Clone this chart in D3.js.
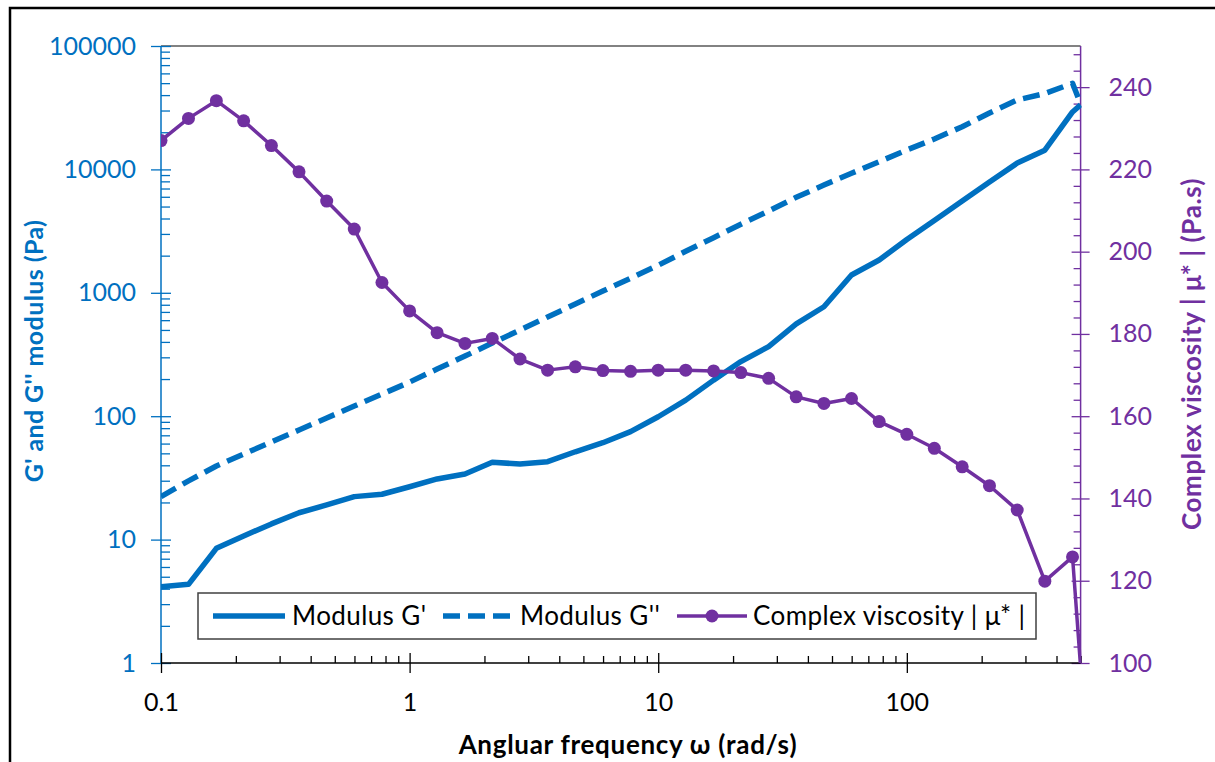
<!DOCTYPE html>
<html>
<head>
<meta charset="utf-8">
<script src="https://cdn.jsdelivr.net/npm/d3@7"></script>
<style>
  html, body { margin: 0; padding: 0; background: #fff; }
  svg { display: block; }
  text { font-family: Lato, "Open Sans", sans-serif; }
</style>
</head>
<body>
<svg id="chart" width="1215" height="762"></svg>
<script>
// Angular frequency sweep (rad/s)
const frequency = [0.1, 0.129, 0.167, 0.215, 0.278, 0.359, 0.464, 0.599, 0.774,
  1, 1.29, 1.67, 2.15, 2.78, 3.59, 4.64, 5.99, 7.74,
  10, 12.9, 16.7, 21.5, 27.8, 35.9, 46.4, 59.9, 77.4,
  100, 129, 167, 215, 278, 359, 464, 500];

// Storage modulus G' (Pa)
const storageModulus = [4.15, 4.34, 8.5, 10.7, 13.4, 16.5, 19.1, 22.3, 23.3,
  26.8, 31.0, 34.0, 42.3, 41.0, 42.8, 51.5, 61, 75,
  99, 135, 196, 277, 366, 560, 771, 1394, 1845,
  2700, 3850, 5550, 7900, 11250, 14300, 29200, 33300];

// Loss modulus G'' (Pa)
const lossModulus = [22.3, 29.9, 39.5, 49.4, 61.8, 77.3, 96.7, 121, 151,
  189, 241, 307, 392, 499, 637, 812, 1034, 1311,
  1671, 2170, 2796, 3591, 4602, 5941, 7474, 9299, 11545,
  14365, 17637, 22181, 28650, 36505, 41220, 49850, 33900];

// Complex viscosity |mu*| (Pa.s)
const complexViscosity = [227.0, 232.4, 236.7, 231.8, 225.8, 219.4, 212.3, 205.5, 192.5,
  185.6, 180.3, 177.7, 178.9, 173.9, 171.2, 172.0, 171.1, 170.9,
  171.2, 171.2, 171.0, 170.6, 169.2, 164.7, 163.1, 164.3, 158.7,
  155.6, 152.2, 147.7, 143.1, 137.2, 119.9, 125.8, 99];

const modulusTicks = [1, 10, 100, 1000, 10000, 100000];
const viscosityTicks = [100, 120, 140, 160, 180, 200, 220, 240];
const frequencyTicks = [0.1, 1, 10, 100];

const seriesNames = ["Modulus G'", "Modulus G''", "Complex viscosity | \u03bc* |"];
const axisTitles = {
  x: "Angluar frequency \u03c9 (rad/s)",
  left: "G' and G'' modulus (Pa)",
  right: "Complex viscosity | \u03bc* | (Pa.s)"
};

const BLUE = "#0070C0";
const PURPLE = "#7030A0";

const svg = d3.select("#chart");
const plot = { left: 161, right: 1080.6, top: 46, bottom: 663 };

const x = d3.scaleLog().domain([0.1, 500]).range([plot.left, plot.right]);
const yL = d3.scaleLog().domain([1, 100000]).range([plot.bottom, plot.top]);
const yR = d3.scaleLinear().domain([100, 250]).range([plot.bottom, plot.top]);

// outer frame (left and top edges visible)
svg.append("path")
  .attr("d", "M10,770 L10,8 L1220,8")
  .attr("fill", "none").attr("stroke", "#000").attr("stroke-width", 2.5);

// plot area top edge
svg.append("line")
  .attr("x1", plot.left).attr("x2", plot.right)
  .attr("y1", plot.top).attr("y2", plot.top)
  .attr("stroke", "#595959").attr("stroke-width", 1.5);

// log minor ticks 2..9 within each decade
function logMinors(lo, hi) {
  const out = [];
  for (let d = lo; d < hi; d *= 10) for (let k = 2; k <= 9; k++) out.push(d * k);
  return out;
}
const xMinors = logMinors(0.1, 1000).filter(v => v <= 500);
const yMinors = logMinors(1, 100000);
const rMinors = d3.range(100, 250.1, 4).filter(v => (v - 100) % 20 !== 0);

function styleAxis(g, color, fs) {
  g.select(".domain").remove();
  g.selectAll("line").attr("stroke", color).attr("stroke-width", 1.3);
  g.selectAll("text").attr("fill", color).attr("font-size", fs).attr("font-family", "Lato, sans-serif");
}

// ---- left axis (moduli)
const gL = svg.append("g").attr("transform", `translate(${plot.left},0)`);
gL.append("g").call(d3.axisRight(yL).tickValues(yMinors).tickSize(9).tickFormat(""))
  .call(g => styleAxis(g, BLUE, 25));
gL.append("g").call(d3.axisLeft(yL).tickValues(modulusTicks).tickSize(10).tickPadding(15).tickFormat(d => String(d)))
  .call(g => styleAxis(g, BLUE, 25))
  .call(g => g.selectAll(".tick line").attr("x1", 10));
gL.append("line").attr("y1", plot.top).attr("y2", plot.bottom)
  .attr("stroke", BLUE).attr("stroke-width", 1.5);

// ---- right axis (viscosity)
const gR = svg.append("g").attr("transform", `translate(${plot.right},0)`);
gR.append("g").call(d3.axisLeft(yR).tickValues(rMinors).tickSize(7).tickFormat(""))
  .call(g => styleAxis(g, PURPLE, 25));
gR.append("g").call(d3.axisRight(yR).tickValues(viscosityTicks).tickSize(9).tickPadding(19).tickFormat(d => String(d)))
  .call(g => styleAxis(g, PURPLE, 25))
  .call(g => g.selectAll(".tick line").attr("x1", -9));
gR.append("line").attr("y1", plot.top).attr("y2", plot.bottom)
  .attr("stroke", PURPLE).attr("stroke-width", 1.5);

// ---- bottom axis (frequency)
const gB = svg.append("g").attr("transform", `translate(0,${plot.bottom})`);
gB.append("g").call(d3.axisTop(x).tickValues(xMinors).tickSize(7).tickFormat(""))
  .call(g => styleAxis(g, "#000", 25));
gB.append("g").call(d3.axisBottom(x).tickValues(frequencyTicks).tickSize(10).tickPadding(20).tickFormat(d => String(d)))
  .call(g => styleAxis(g, "#000", 25))
  .call(g => g.selectAll(".tick line").attr("y1", -10));
gB.append("line").attr("x1", plot.left).attr("x2", plot.right)
  .attr("stroke", "#000").attr("stroke-width", 1.5);

// ---- series
svg.append("clipPath").attr("id", "plotClip")
  .append("rect").attr("x", plot.left).attr("y", plot.top)
  .attr("width", plot.right - plot.left + 1).attr("height", plot.bottom - plot.top);

const series = svg.append("g").attr("clip-path", "url(#plotClip)");

const lineL = vals => d3.line().x((d, i) => x(frequency[i])).y(d => yL(d))(vals);
const lineR = vals => d3.line().x((d, i) => x(frequency[i])).y(d => yR(d))(vals);

series.append("path").attr("d", lineL(storageModulus))
  .attr("fill", "none").attr("stroke", BLUE).attr("stroke-width", 5.5)
  .attr("stroke-linejoin", "round");

series.append("path").attr("d", lineL(lossModulus))
  .attr("fill", "none").attr("stroke", BLUE).attr("stroke-width", 5.5)
  .attr("stroke-dasharray", "17,8").attr("stroke-linejoin", "round");

series.append("path").attr("d", lineR(complexViscosity))
  .attr("fill", "none").attr("stroke", PURPLE).attr("stroke-width", 3.5)
  .attr("stroke-linejoin", "round");

series.selectAll("circle.mk")
  .data(complexViscosity.map((v, i) => ({ f: frequency[i], v })).filter(d => d.v >= 100))
  .join("circle").attr("class", "mk")
  .attr("cx", d => x(d.f)).attr("cy", d => yR(d.v)).attr("r", 6.5)
  .attr("fill", PURPLE);

// ---- legend
const lg = svg.append("g");
lg.append("rect").attr("x", 198).attr("y", 593).attr("width", 838).attr("height", 46)
  .attr("fill", "#fff").attr("stroke", "#404040").attr("stroke-width", 1.5);
const ly = 616;
lg.append("line").attr("x1", 213).attr("x2", 285).attr("y1", ly).attr("y2", ly)
  .attr("stroke", BLUE).attr("stroke-width", 5.5);
lg.append("line").attr("x1", 443).attr("x2", 512).attr("y1", ly).attr("y2", ly)
  .attr("stroke", BLUE).attr("stroke-width", 5.5).attr("stroke-dasharray", "17,8");
lg.append("line").attr("x1", 677).attr("x2", 747).attr("y1", ly).attr("y2", ly)
  .attr("stroke", PURPLE).attr("stroke-width", 3.5);
lg.append("circle").attr("cx", 712).attr("cy", ly).attr("r", 6.5).attr("fill", PURPLE);
[[292, seriesNames[0]], [520, seriesNames[1]], [753, seriesNames[2]]].forEach(([tx, t]) => {
  lg.append("text").attr("x", tx).attr("y", ly).attr("dy", "0.35em")
    .attr("font-size", 26).attr("letter-spacing", "0.4px").attr("fill", "#000").text(t);
});

// ---- axis titles
svg.append("text").attr("x", 628).attr("y", 745).attr("dy", "0.35em")
  .attr("text-anchor", "middle").attr("font-size", 26).attr("letter-spacing", "0.7px")
  .attr("font-weight", "bold").attr("fill", "#000").text(axisTitles.x);

svg.append("text").attr("transform", "translate(34,351) rotate(-90)").attr("dy", "0.35em")
  .attr("text-anchor", "middle").attr("font-size", 25).attr("letter-spacing", "0.4px")
  .attr("font-weight", "bold").attr("fill", BLUE).text(axisTitles.left);

svg.append("text").attr("transform", "translate(1192,354) rotate(-90)").attr("dy", "0.35em")
  .attr("text-anchor", "middle").attr("font-size", 26).attr("letter-spacing", "0.6px")
  .attr("font-weight", "bold").attr("fill", PURPLE).text(axisTitles.right);
</script>
</body>
</html>
